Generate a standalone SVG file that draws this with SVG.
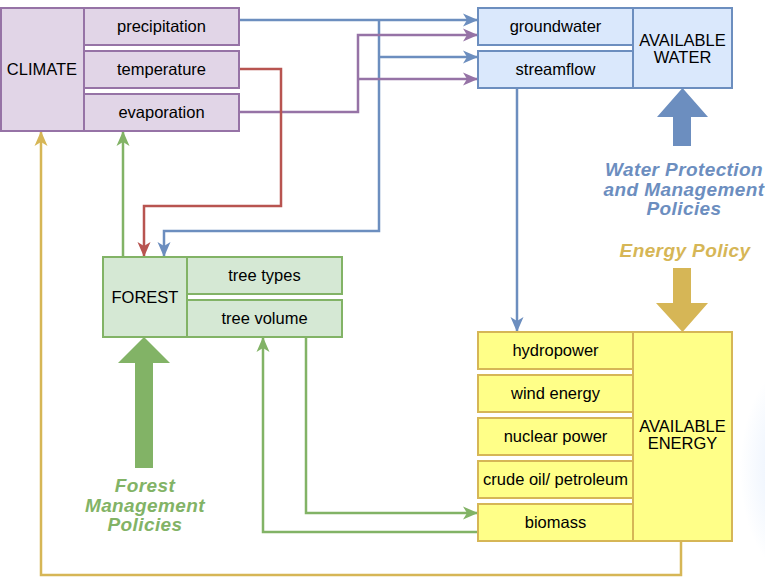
<svg xmlns="http://www.w3.org/2000/svg" width="765" height="581" viewBox="0 0 765 581">
<style>
text{font-family:"Liberation Sans",Arial,sans-serif;fill:#000;}
.n{font-size:16.5px;text-anchor:middle;}
.p{font-size:19px;font-weight:bold;font-style:italic;text-anchor:middle;letter-spacing:0.4px;}
.cl rect{fill:#e1d5e7;stroke:#9673a6;stroke-width:2;}
.wa rect{fill:#dae8fc;stroke:#6c8ebf;stroke-width:2;}
.fo rect{fill:#d5e8d4;stroke:#82b366;stroke-width:2;}
.en rect{fill:#ffff88;stroke:#d6b656;stroke-width:2;}
.c path{fill:none;stroke-width:2.5;}
</style>
<defs>
<marker id="ab" markerUnits="userSpaceOnUse" markerWidth="16" markerHeight="14" refX="15" refY="7" orient="auto"><path d="M0,0.5 L15,7 L0,13.5 L4,7 Z" fill="#6c8ebf"/></marker>
<marker id="ap" markerUnits="userSpaceOnUse" markerWidth="16" markerHeight="14" refX="15" refY="7" orient="auto"><path d="M0,0.5 L15,7 L0,13.5 L4,7 Z" fill="#9673a6"/></marker>
<marker id="ar" markerUnits="userSpaceOnUse" markerWidth="16" markerHeight="14" refX="15" refY="7" orient="auto"><path d="M0,0.5 L15,7 L0,13.5 L4,7 Z" fill="#b85450"/></marker>
<marker id="ag" markerUnits="userSpaceOnUse" markerWidth="16" markerHeight="14" refX="15" refY="7" orient="auto"><path d="M0,0.5 L15,7 L0,13.5 L4,7 Z" fill="#82b366"/></marker>
<marker id="ay" markerUnits="userSpaceOnUse" markerWidth="16" markerHeight="14" refX="15" refY="7" orient="auto"><path d="M0,0.5 L15,7 L0,13.5 L4,7 Z" fill="#d6b656"/></marker>
<radialGradient id="glow" cx="0.5" cy="0.5" r="0.5">
<stop offset="0" stop-color="#dae8fc" stop-opacity="0.9"/>
<stop offset="1" stop-color="#dae8fc" stop-opacity="0"/>
</radialGradient>
</defs>
<rect width="765" height="581" fill="#fff"/>
<ellipse cx="800" cy="470" rx="60" ry="110" fill="url(#glow)"/>

<g id="connectors" class="c">
<path d="M239,20 H478" stroke="#6c8ebf" marker-end="url(#ab)"/>
<path d="M379,20 V231 H164 V257" stroke="#6c8ebf" marker-end="url(#ab)"/>
<path d="M379,57 H478" stroke="#6c8ebf" marker-end="url(#ab)"/>
<path d="M239,112 H358 V35 H478" stroke="#9673a6" marker-end="url(#ap)"/>
<path d="M358,79 H478" stroke="#9673a6" marker-end="url(#ap)"/>
<path d="M239,69 H281 V206 H144 V257" stroke="#b85450" marker-end="url(#ar)"/>
<path d="M123,257 V131" stroke="#82b366" marker-end="url(#ag)"/>
<path d="M517,88 V332" stroke="#6c8ebf" marker-end="url(#ab)"/>
<path d="M306,337 V513 H478" stroke="#82b366" marker-end="url(#ag)"/>
<path d="M478,532 H263 V337" stroke="#82b366" marker-end="url(#ag)"/>
<path d="M681,541 V575 H41 V131" stroke="#d6b656" marker-end="url(#ay)"/>
</g>

<g id="climate" class="cl">
<rect x="1" y="8" width="83" height="123"/>
<text class="n" x="42" y="75">CLIMATE</text>
</g>
<g id="precipitation" class="cl">
<rect x="84" y="8" width="155" height="37"/>
<text class="n" x="161.5" y="32">precipitation</text>
</g>
<g id="temperature" class="cl">
<rect x="84" y="51" width="155" height="37"/>
<text class="n" x="161.5" y="75">temperature</text>
</g>
<g id="evaporation" class="cl">
<rect x="84" y="94" width="155" height="37"/>
<text class="n" x="161.5" y="118">evaporation</text>
</g>

<g id="available-water" class="wa">
<rect x="633" y="8" width="99" height="80"/>
<text class="n" x="682.5" y="46">AVAILABLE</text>
<text class="n" x="682.5" y="63">WATER</text>
</g>
<g id="groundwater" class="wa">
<rect x="478" y="8" width="155" height="37"/>
<text class="n" x="555.5" y="32">groundwater</text>
</g>
<g id="streamflow" class="wa">
<rect x="478" y="51" width="155" height="37"/>
<text class="n" x="555.5" y="75">streamflow</text>
</g>

<g id="forest" class="fo">
<rect x="103" y="257" width="84" height="80"/>
<text class="n" x="145" y="303">FOREST</text>
</g>
<g id="tree-types" class="fo">
<rect x="187" y="257" width="155" height="37"/>
<text class="n" x="264.5" y="281">tree types</text>
</g>
<g id="tree-volume" class="fo">
<rect x="187" y="300" width="155" height="37"/>
<text class="n" x="264.5" y="324">tree volume</text>
</g>

<g id="available-energy" class="en">
<rect x="633" y="332" width="99" height="209"/>
<text class="n" x="682.5" y="432">AVAILABLE</text>
<text class="n" x="682.5" y="449">ENERGY</text>
</g>
<g id="hydropower" class="en">
<rect x="478" y="332" width="155" height="37"/>
<text class="n" x="555.5" y="356">hydropower</text>
</g>
<g id="wind-energy" class="en">
<rect x="478" y="375" width="155" height="37"/>
<text class="n" x="555.5" y="399">wind energy</text>
</g>
<g id="nuclear-power" class="en">
<rect x="478" y="418" width="155" height="37"/>
<text class="n" x="555.5" y="442">nuclear power</text>
</g>
<g id="crude-oil" class="en">
<rect x="478" y="461" width="155" height="37"/>
<text class="n" x="555.5" y="485">crude oil/ petroleum</text>
</g>
<g id="biomass" class="en">
<rect x="478" y="504" width="155" height="37"/>
<text class="n" x="555.5" y="528">biomass</text>
</g>

<g id="water-policy">
<polygon points="673,146 691,146 691,117 708,117 682.5,88 657,117 673,117" fill="#6c8ebf"/>
<text class="p" x="684" y="176" style="fill:#6c8ebf">Water Protection</text>
<text class="p" x="684" y="196" style="fill:#6c8ebf">and Management</text>
<text class="p" x="684" y="215" style="fill:#6c8ebf">Policies</text>
</g>
<g id="energy-policy">
<text class="p" x="685" y="257" style="fill:#d6b656">Energy Policy</text>
<polygon points="673,268 691,268 691,303 708,303 682.5,332 656,303 673,303" fill="#d6b656"/>
</g>
<g id="forest-policy">
<polygon points="135,468 153,468 153,363 170,363 144,337 118,363 135,363" fill="#82b366"/>
<text class="p" x="145" y="492" style="fill:#82b366">Forest</text>
<text class="p" x="145" y="512" style="fill:#82b366">Management</text>
<text class="p" x="145" y="531" style="fill:#82b366">Policies</text>
</g>
</svg>
